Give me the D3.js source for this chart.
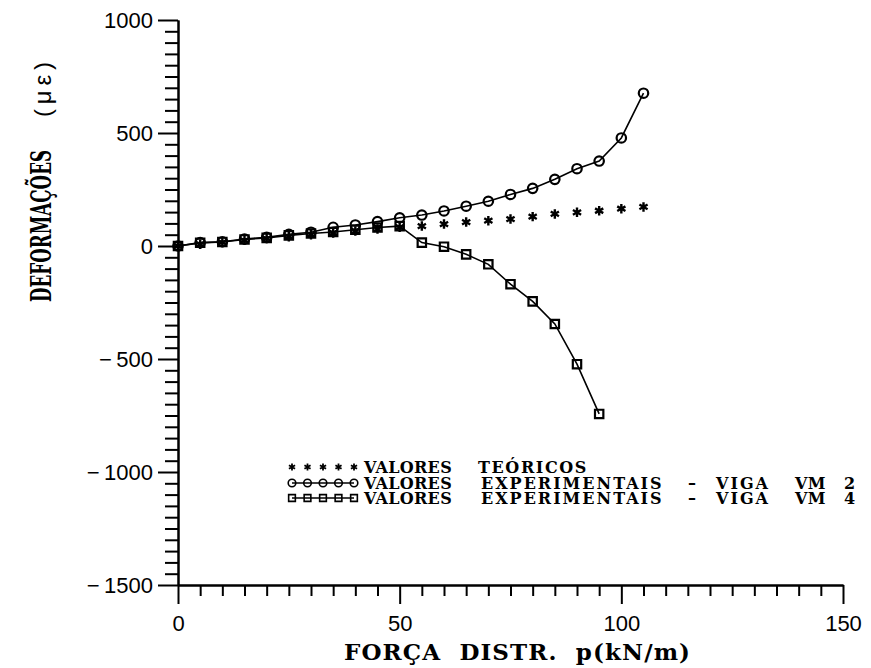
<!DOCTYPE html>
<html>
<head>
<meta charset="utf-8">
<script src="https://cdn.jsdelivr.net/npm/d3@7"></script>
<style>
  html, body { margin: 0; padding: 0; background: #fff; }
  svg { display: block; }
  .tick text { font-family: "Liberation Sans", Arial, sans-serif; font-size: 22px; fill: #000; }
  .serif { font-family: "DejaVu Serif", "Liberation Serif", serif; font-weight: bold; white-space: pre; fill: #000; }
</style>
</head>
<body>
<svg id="chart" width="871" height="668"></svg>
<script>
// Distributed load p (kN/m) at each reading
const loadVM2 = [0, 5, 10, 15, 20, 25, 30, 35, 40, 45, 50, 55, 60, 65, 70, 75, 80, 85, 90, 95, 100, 105];
const loadVM4 = [0, 5, 10, 15, 20, 25, 30, 35, 40, 45, 50, 55, 60, 65, 70, 75, 80, 85, 90, 95];
const loadTeo = [0, 5, 10, 15, 20, 25, 30, 35, 40, 45, 50, 55, 60, 65, 70, 75, 80, 85, 90, 95, 100, 105];

// Strains (µε)
const strainTeo = [0, 8, 16, 25, 33, 41, 50, 58, 66, 75, 83, 88, 97, 106, 112, 119, 130, 142, 149, 156, 165, 173];
const strainVM2 = [0, 15, 19, 31, 38, 52, 61, 83, 93, 108, 125, 137, 155, 176, 198, 228, 255, 295, 342, 376, 478, 676];
const strainVM4 = [0, 14, 18, 29, 36, 47, 55, 62, 72, 82, 88, 15, -3, -37, -81, -169, -245, -345, -523, -743];

// Axis tick labels
const xTickLabels = [0, 50, 100, 150];
const yTickLabels = [1000, 500, 0, -500, -1000, -1500];

const legendLabels = [
  "VALORES  TEÓRICOS",
  "VALORES  EXPERIMENTAIS  –  VIGA  VM  2",
  "VALORES  EXPERIMENTAIS  –  VIGA  VM  4"
];

const svg = d3.select("#chart");

const x = d3.scaleLinear().domain([0, 150]).range([178, 843]);
const y = d3.scaleLinear().domain([-1500, 1000]).range([585, 20]);

const minus = d => d < 0 ? "\u2212\u2009" + Math.abs(d) : String(d);

// minor ticks every 5 kN/m and 50 µε
const xMinor = d3.range(0, 151, 5).filter(v => v % 50 !== 0);
const yMinor = d3.range(-1500, 1001, 50).filter(v => v % 500 !== 0);

const gx0 = svg.append("g").attr("transform", `translate(0,${y(-1500)})`)
  .call(d3.axisBottom(x).tickValues(xMinor).tickSize(11).tickSizeOuter(0).tickFormat(""));
const gx1 = svg.append("g").attr("transform", `translate(0,${y(-1500)})`)
  .call(d3.axisBottom(x).tickValues(xTickLabels).tickSize(19).tickSizeOuter(0).tickPadding(6).tickFormat(minus));
const gy0 = svg.append("g").attr("transform", `translate(${x(0)},0)`)
  .call(d3.axisLeft(y).tickValues(yMinor).tickSize(13).tickSizeOuter(0).tickFormat(""));
const gy1 = svg.append("g").attr("transform", `translate(${x(0)},0)`)
  .call(d3.axisLeft(y).tickValues(yTickLabels).tickSize(20).tickSizeOuter(0).tickPadding(5).tickFormat(minus));

[gx0, gx1, gy0, gy1].forEach(g => {
  g.selectAll("line").attr("stroke", "#000").attr("stroke-width", 2);
  g.selectAll(".domain").attr("stroke", "#000").attr("stroke-width", 2);
  g.attr("font-family", null).attr("font-size", null);
});
gx1.selectAll("text").attr("dy", "0.95em");
gy1.selectAll("text").attr("dy", "0.36em");

// axis titles
svg.append("text").attr("class", "serif")
  .attr("x", 344).attr("y", 660)
  .attr("font-size", 23)
  .attr("textLength", 346).attr("lengthAdjust", "spacing")
  .text("FORÇA  DISTR.  p(kN/m)");

svg.append("text").attr("class", "serif")
  .attr("transform", "translate(51,302) rotate(-90)")
  .attr("font-family", "'Liberation Serif', serif")
  .attr("font-size", 28)
  .attr("textLength", 152).attr("lengthAdjust", "spacingAndGlyphs")
  .text("DEFORMAÇÕES");

svg.append("text")
  .attr("transform", "translate(51,117) rotate(-90)")
  .attr("font-family", "'Liberation Sans', Arial, sans-serif")
  .attr("font-size", 24)
  .style("white-space", "pre")
  .attr("textLength", 55).attr("lengthAdjust", "spacing")
  .text("( μ ε )");

// marker shapes
const star = d3.symbol().type({
  draw(ctx, size) {
    const r = Math.sqrt(size) / 2;
    for (let k = 0; k < 3; k++) {
      const a = Math.PI / 2 + k * Math.PI / 3;
      ctx.moveTo(-r * Math.cos(a), -r * Math.sin(a));
      ctx.lineTo(r * Math.cos(a), r * Math.sin(a));
    }
  }
}).size(90);
const circ = d3.symbol().type(d3.symbolCircle).size(70);
const sq = d3.symbol().type(d3.symbolSquare).size(70);

const line = d3.line().x(d => x(d[0])).y(d => y(d[1]));

const vm2 = loadVM2.map((p, i) => [p, strainVM2[i]]);
const vm4 = loadVM4.map((p, i) => [p, strainVM4[i]]);
const teo = loadTeo.map((p, i) => [p, strainTeo[i]]);

svg.append("path").datum(vm4).attr("d", line)
  .attr("fill", "none").attr("stroke", "#000").attr("stroke-width", 1.6);
svg.append("path").datum(vm2).attr("d", line)
  .attr("fill", "none").attr("stroke", "#000").attr("stroke-width", 1.6);

svg.append("g").selectAll("path").data(vm4).join("path")
  .attr("transform", d => `translate(${x(d[0])},${y(d[1])})`)
  .attr("d", sq).attr("fill", "none").attr("stroke", "#000").attr("stroke-width", 2.2);
svg.append("g").selectAll("path").data(vm2).join("path")
  .attr("transform", d => `translate(${x(d[0])},${y(d[1])})`)
  .attr("d", circ).attr("fill", "none").attr("stroke", "#000").attr("stroke-width", 2.2);
svg.append("g").selectAll("path").data(teo).join("path")
  .attr("transform", d => `translate(${x(d[0])},${y(d[1])})`)
  .attr("d", star).attr("fill", "none").attr("stroke", "#000").attr("stroke-width", 2.4);

// legend: sample markers
const legendX = [292, 307.5, 323, 338.5, 354];
const legendY = [467, 483, 498];
const shapes = [star, circ, sq];
legendY.forEach((ly, i) => {
  const g = svg.append("g");
  if (i > 0) {
    g.append("line").attr("x1", legendX[0]).attr("x2", legendX[4])
      .attr("y1", ly).attr("y2", ly).attr("stroke", "#000").attr("stroke-width", 1.5);
  }
  g.selectAll("path").data(legendX).join("path")
    .attr("transform", d => `translate(${d},${ly})`)
    .attr("d", shapes[i].size(i === 0 ? 50 : 45))
    .attr("fill", "none").attr("stroke", "#000").attr("stroke-width", i === 0 ? 1.8 : 1.6);
});

// legend: each word set at its own column and fitted to its width
const wordStart = [[364, 478], [364, 481, 688, 716, 795, 844], [364, 481, 688, 716, 795, 844]];
const wordEnd   = [[452, 588], [452, 666, 698, 772, 826, 857], [452, 666, 698, 772, 826, 857]];
const legendFont = 16;
const probe = svg.append("text").attr("class", "serif").attr("font-size", legendFont);
const legendText = svg.append("text").attr("class", "serif").attr("font-size", legendFont);
legendLabels.forEach((label, i) => {
  label.split(/\s{2,}/).forEach((w, j) => {
    probe.text(w);
    const nat = probe.node().getComputedTextLength();
    const target = wordEnd[i][j] - wordStart[i][j];
    const ls = w.length > 1 ? Math.max(-0.5, Math.min(2, (target - nat) / w.length)) : 0;
    legendText.append("tspan")
      .attr("x", wordStart[i][j])
      .attr("y", legendY[i] + 6)
      .style("letter-spacing", ls + "px")
      .text(w);
  });
});
probe.remove();
</script>
</body>
</html>
